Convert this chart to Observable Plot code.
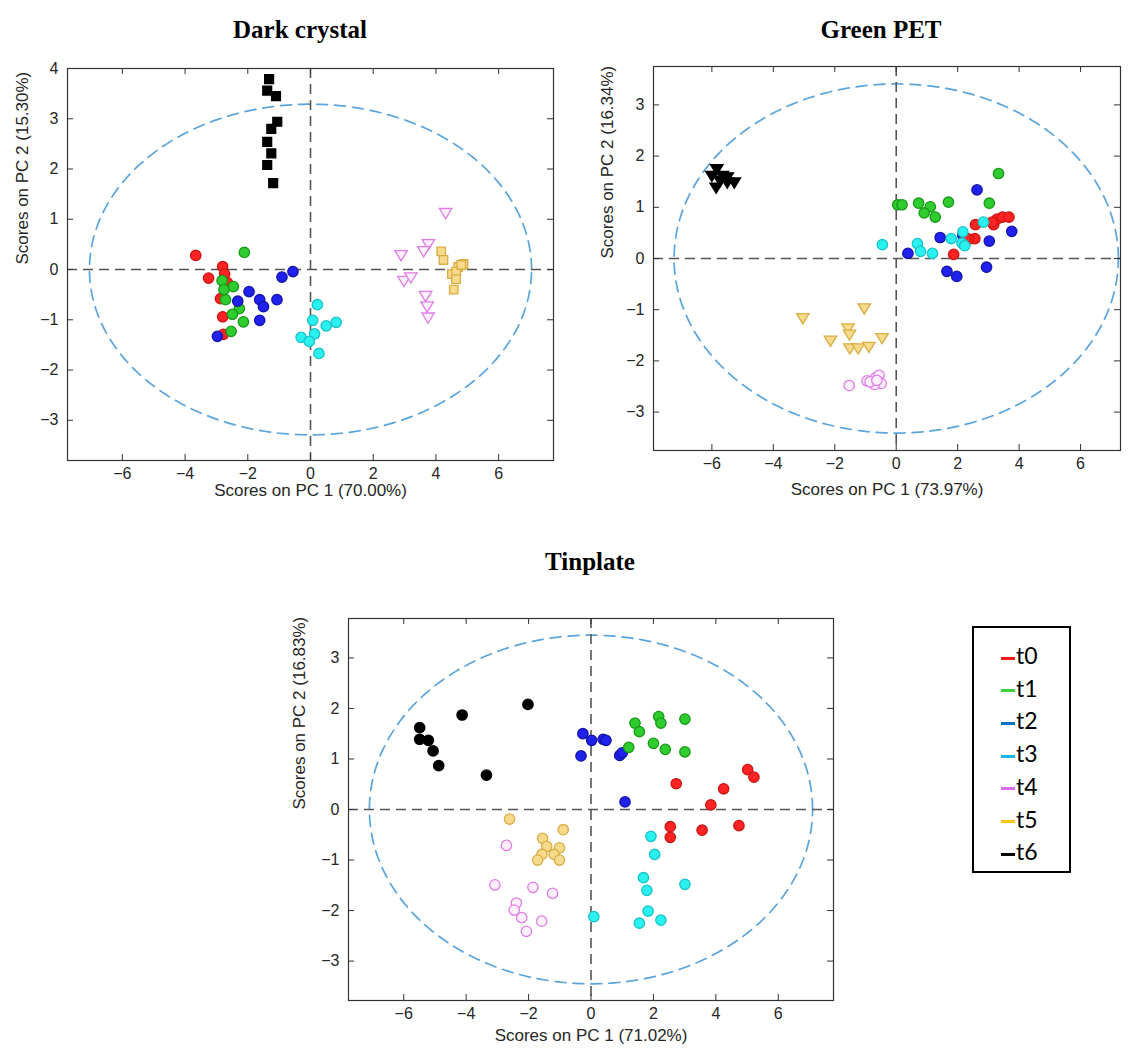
<!DOCTYPE html>
<html><head><meta charset="utf-8">
<script src="https://cdn.jsdelivr.net/npm/d3@7"></script>
<script src="https://cdn.jsdelivr.net/npm/@observablehq/plot@0.6"></script>
<style>
body{margin:0;background:#fff;}
#root{position:relative;width:1131px;height:1057px;overflow:hidden;background:#fff;}
.title{position:absolute;font-family:"Liberation Serif","DejaVu Serif",serif;font-weight:bold;font-size:25px;line-height:25px;color:#000;transform:translateX(-50%);white-space:nowrap;}
.panel{position:absolute;}
#legend{position:absolute;left:972px;top:626px;width:95px;height:243px;border:2px solid #000;box-sizing:content-box;font-family:Lato,"Open Sans",sans-serif;font-size:23px;color:#000;}
.li{position:absolute;left:27px;height:30px;line-height:30px;white-space:nowrap;}
.li span.sw{display:inline-block;width:14px;height:3px;vertical-align:middle;margin-right:1px;}
</style></head>
<body><div id="root"></div>
<script>
// ---------- data ----------
const xTicks = [-6, -4, -2, 0, 2, 4, 6];
const dcYTicks = [-3, -2, -1, 0, 1, 2, 3, 4];
const gpYTicks = [-3, -2, -1, 0, 1, 2, 3];
const tpYTicks = [-3, -2, -1, 0, 1, 2, 3];
const groups = ["t0", "t1", "t2", "t3", "t4", "t5", "t6"];
const legendColors = ["#ff1a1a", "#3ccf3c", "#0c72c0", "#18b8ea", "#d76cf0", "#ffc20e", "#000000"];

// Dark crystal (PC1 70.00 %, PC2 15.30 %)
const dc_t0 = [[-3.66,0.28],[-2.80,0.06],[-2.74,-0.09],[-3.25,-0.17],[-2.65,-0.26],[-2.87,-0.58],[-2.80,-0.94],[-2.78,-1.29]];
const dc_t1 = [[-2.11,0.34],[-2.82,-0.22],[-2.46,-0.34],[-2.76,-0.40],[-2.71,-0.60],[-2.27,-0.78],[-2.49,-0.89],[-2.14,-1.04],[-2.53,-1.23]];
const dc_t2 = [[-0.56,-0.04],[-0.91,-0.15],[-1.96,-0.44],[-2.32,-0.63],[-1.62,-0.60],[-1.07,-0.60],[-1.50,-0.74],[-1.62,-1.01],[-2.97,-1.33]];
const dc_t3 = [[0.22,-0.70],[0.07,-1.01],[0.50,-1.12],[0.82,-1.05],[0.13,-1.28],[-0.30,-1.35],[-0.04,-1.43],[0.27,-1.67]];
const dc_t4 = [[4.31,1.13],[2.89,0.29],[3.76,0.51],[3.61,0.37],[2.98,-0.22],[3.20,-0.15],[3.67,-0.52],[3.72,-0.73],[3.75,-0.95]];
const dc_t5 = [[4.17,0.36],[4.24,0.19],[4.88,0.11],[4.71,0.05],[4.51,-0.09],[4.65,-0.04],[4.64,-0.19],[4.57,-0.40],[4.81,0.09]];
const dc_t6 = [[-1.32,3.79],[-1.38,3.56],[-1.10,3.45],[-1.06,2.94],[-1.25,2.80],[-1.38,2.54],[-1.25,2.31],[-1.38,2.08],[-1.19,1.72]];

// Green PET (PC1 73.97 %, PC2 16.34 %)
const gp_t0 = [[1.87,0.08],[2.56,0.39],[2.36,0.38],[2.58,0.66],[3.17,0.66],[3.28,0.77],[3.46,0.81],[3.67,0.81],[3.12,0.71],[2.27,0.40]];
const gp_t1 = [[3.33,1.66],[0.05,1.05],[0.19,1.05],[0.73,1.08],[1.11,1.01],[0.91,0.89],[1.27,0.81],[1.70,1.10],[3.03,1.08]];
const gp_t2 = [[2.63,1.34],[0.38,0.10],[1.43,0.41],[2.17,0.45],[3.03,0.34],[3.76,0.53],[1.65,-0.25],[1.97,-0.35],[2.94,-0.17]];
const gp_t3 = [[-0.45,0.27],[0.69,0.29],[0.79,0.14],[1.18,0.10],[1.79,0.39],[2.17,0.52],[2.14,0.30],[2.23,0.25],[2.84,0.71]];
const gp_t4 = [[-1.53,-2.48],[-0.95,-2.39],[-0.67,-2.33],[-0.56,-2.28],[-0.49,-2.44],[-0.71,-2.46],[-0.85,-2.41],[-0.63,-2.38]];
const gp_t5 = [[-3.04,-1.16],[-1.04,-0.97],[-1.57,-1.36],[-1.52,-1.48],[-2.14,-1.60],[-0.46,-1.55],[-1.51,-1.75],[-1.24,-1.75],[-0.89,-1.72]];
const gp_t6 = [[-5.84,1.75],[-6.00,1.62],[-5.66,1.62],[-5.50,1.59],[-5.27,1.49],[-5.50,1.49],[-5.86,1.39],[-5.73,1.52]];

// Tinplate (PC1 71.02 %, PC2 16.83 %)
const tp_t0 = [[5.02,0.79],[5.22,0.64],[2.73,0.51],[4.25,0.41],[3.84,0.09],[2.54,-0.34],[2.54,-0.55],[3.56,-0.41],[4.74,-0.32]];
const tp_t1 = [[1.41,1.71],[1.55,1.54],[1.21,1.23],[2.17,1.84],[2.24,1.71],[3.01,1.79],[2.00,1.31],[2.38,1.19],[3.01,1.14]];
const tp_t2 = [[-0.26,1.50],[-0.32,1.06],[0.02,1.37],[0.39,1.39],[0.48,1.37],[0.92,1.07],[1.00,1.12],[1.09,0.15]];
const tp_t3 = [[1.92,-0.53],[2.04,-0.89],[1.68,-1.35],[1.79,-1.60],[3.01,-1.48],[1.83,-2.01],[1.55,-2.25],[2.24,-2.19],[0.09,-2.12]];
const tp_t4 = [[-2.71,-0.71],[-3.08,-1.49],[-1.86,-1.54],[-1.23,-1.66],[-2.39,-1.85],[-2.46,-1.99],[-2.22,-2.14],[-1.58,-2.21],[-2.07,-2.41]];
const tp_t5 = [[-2.61,-0.19],[-0.89,-0.40],[-1.55,-0.57],[-1.42,-0.73],[-1.01,-0.76],[-1.57,-0.89],[-1.18,-0.89],[-1.71,-1.00],[-1.01,-1.00]];
const tp_t6 = [[-5.49,1.62],[-5.49,1.39],[-5.21,1.37],[-5.06,1.16],[-4.88,0.87],[-4.13,1.87],[-3.35,0.68],[-2.02,2.08]];

// ---------- styles ----------
const mk = {
  t0: {fill: "#ff2323", stroke: "#cc1515"},
  t1: {fill: "#2fcc2f", stroke: "#179a17"},
  t2: {fill: "#2121ee", stroke: "#1414a8"},
  t3: {fill: "#2af0f0", stroke: "#18c4c8"},
  t4: {fill: "#fdf0fd", stroke: "#e07ce6"},
  t5: {fill: "#f7da8c", stroke: "#d8ae45"},
  t6: {fill: "#000000", stroke: "#000000"}
};
const triDown = {
  draw(ctx, size) {
    const r = Math.sqrt(size / Math.PI);
    ctx.moveTo(-1.25 * r, -0.85 * r);
    ctx.lineTo(1.25 * r, -0.85 * r);
    ctx.lineTo(0, 1.2 * r);
    ctx.closePath();
  }
};
const fmt = d => (d < 0 ? "\u2212" + Math.abs(d) : String(d));

function makePanel(cfg) {
  const {width, height, ml, mr, mt, mb, xDomain, yDomain, yTicks, ellA, ellB, series, xLabel, yLabel, xlDy, ylDx} = cfg;
  const iw = width - ml - mr, ih = height - mt - mb;
  const tkx = 6 * (xDomain[1] - xDomain[0]) / iw;
  const tky = 6 * (yDomain[1] - yDomain[0]) / ih;
  const ell = d3.range(0, 361, 1).map(a => [ellA * Math.cos(a * Math.PI / 180), ellB * Math.sin(a * Math.PI / 180)]);
  const dash = {stroke: "#555", strokeWidth: 1.6, strokeDasharray: "10,6"};
  const marks = [
    Plot.line(ell, {x: d => d[0], y: d => d[1], stroke: "#5ba4dc", strokeWidth: 1.7, strokeDasharray: "11,7"}),
    Plot.ruleX([0], dash),
    Plot.ruleY([0], dash)
  ];
  for (const s of series) {
    marks.push(Plot.dot(s.data, {x: d => d[0], y: d => d[1], r: s.r || 5.2, symbol: s.symbol || "circle",
      fill: mk[s.key].fill, stroke: mk[s.key].stroke, strokeWidth: 1.3}));
  }
  const tk = {stroke: "#333", strokeWidth: 1};
  marks.push(
    Plot.frame({stroke: "#333", strokeWidth: 1.2}),
    Plot.ruleX(xTicks, {x: d => d, y1: yDomain[0], y2: yDomain[0] + tky, ...tk}),
    Plot.ruleX(xTicks, {x: d => d, y1: yDomain[1], y2: yDomain[1] - tky, ...tk}),
    Plot.ruleY(yTicks, {y: d => d, x1: xDomain[0], x2: xDomain[0] + tkx, ...tk}),
    Plot.ruleY(yTicks, {y: d => d, x1: xDomain[1], x2: xDomain[1] - tkx, ...tk}),
    Plot.axisX(xTicks, {tickSize: 0, tickPadding: 7, label: null, tickFormat: fmt}),
    Plot.axisY(yTicks, {tickSize: 0, tickPadding: 9, label: null, tickFormat: fmt}),
    Plot.text([xLabel], {text: d => d, frameAnchor: "bottom", dy: xlDy, fontSize: 17, fill: "#262626"}),
    Plot.text([yLabel], {text: d => d, frameAnchor: "left", rotate: -90, dx: ylDx, fontSize: 17, fill: "#262626"})
  );
  return Plot.plot({
    width, height, marginLeft: ml, marginRight: mr, marginTop: mt, marginBottom: mb,
    x: {domain: xDomain}, y: {domain: yDomain},
    style: {fontSize: "16px", fontFamily: "'Liberation Sans', Arial, sans-serif", color: "#262626", background: "transparent", overflow: "visible"},
    marks
  });
}

const root = document.getElementById("root");
function place(node, left, top) {
  const d = document.createElement("div");
  d.className = "panel"; d.style.left = left + "px"; d.style.top = top + "px";
  d.appendChild(node); root.appendChild(d);
}
function title(text, cx, top) {
  const d = document.createElement("div");
  d.className = "title"; d.textContent = text; d.style.left = cx + "px"; d.style.top = top + "px";
  root.appendChild(d);
}

place(makePanel({
  width: 570, height: 520, ml: 67, mr: 17, mt: 68, mb: 60,
  xDomain: [-7.75, 7.75], yDomain: [-3.8, 4.0], yTicks: dcYTicks, ellA: 7.05, ellB: 3.29,
  xLabel: "Scores on PC 1 (70.00%)", yLabel: "Scores on PC 2 (15.30%)", xlDy: 35, ylDx: -45,
  series: [
    {key: "t0", data: dc_t0}, {key: "t1", data: dc_t1}, {key: "t2", data: dc_t2}, {key: "t3", data: dc_t3},
    {key: "t4", data: dc_t4, symbol: triDown, r: 5}, {key: "t5", data: dc_t5, symbol: "square", r: 4.8},
    {key: "t6", data: dc_t6, symbol: "square", r: 5}
  ]
}), 0, 0);

place(makePanel({
  width: 545, height: 520, ml: 67, mr: 11, mt: 66, mb: 70,
  xDomain: [-7.9, 7.3], yDomain: [-3.75, 3.75], yTicks: gpYTicks, ellA: 7.23, ellB: 3.41,
  xLabel: "Scores on PC 1 (73.97%)", yLabel: "Scores on PC 2 (16.34%)", xlDy: 44, ylDx: -46,
  series: [
    {key: "t5", data: gp_t5, symbol: triDown, r: 5}, {key: "t4", data: gp_t4},
    {key: "t6", data: gp_t6, symbol: triDown, r: 5},
    {key: "t1", data: gp_t1}, {key: "t2", data: gp_t2}, {key: "t0", data: gp_t0}, {key: "t3", data: gp_t3}
  ]
}), 586, 0);

place(makePanel({
  width: 569, height: 507, ml: 67, mr: 17, mt: 68, mb: 57,
  xDomain: [-7.77, 7.77], yDomain: [-3.78, 3.78], yTicks: tpYTicks, ellA: 7.1, ellB: 3.45,
  xLabel: "Scores on PC 1 (71.02%)", yLabel: "Scores on PC 2 (16.83%)", xlDy: 40, ylDx: -49,
  series: [
    {key: "t6", data: tp_t6}, {key: "t2", data: tp_t2}, {key: "t1", data: tp_t1}, {key: "t0", data: tp_t0},
    {key: "t3", data: tp_t3}, {key: "t5", data: tp_t5}, {key: "t4", data: tp_t4}
  ]
}), 281, 550);

title("Dark crystal", 300, 17);
title("Green PET", 881, 17);
title("Tinplate", 590, 549);

// legend
const lg = document.createElement("div");
lg.id = "legend";
groups.forEach((g, i) => {
  const row = document.createElement("div");
  row.className = "li";
  row.style.top = (12 + i * 32.7) + "px";
  const sw = document.createElement("span");
  sw.className = "sw"; sw.style.background = legendColors[i];
  row.appendChild(sw);
  row.appendChild(document.createTextNode(g));
  lg.appendChild(row);
});
root.appendChild(lg);
</script>
</body></html>
